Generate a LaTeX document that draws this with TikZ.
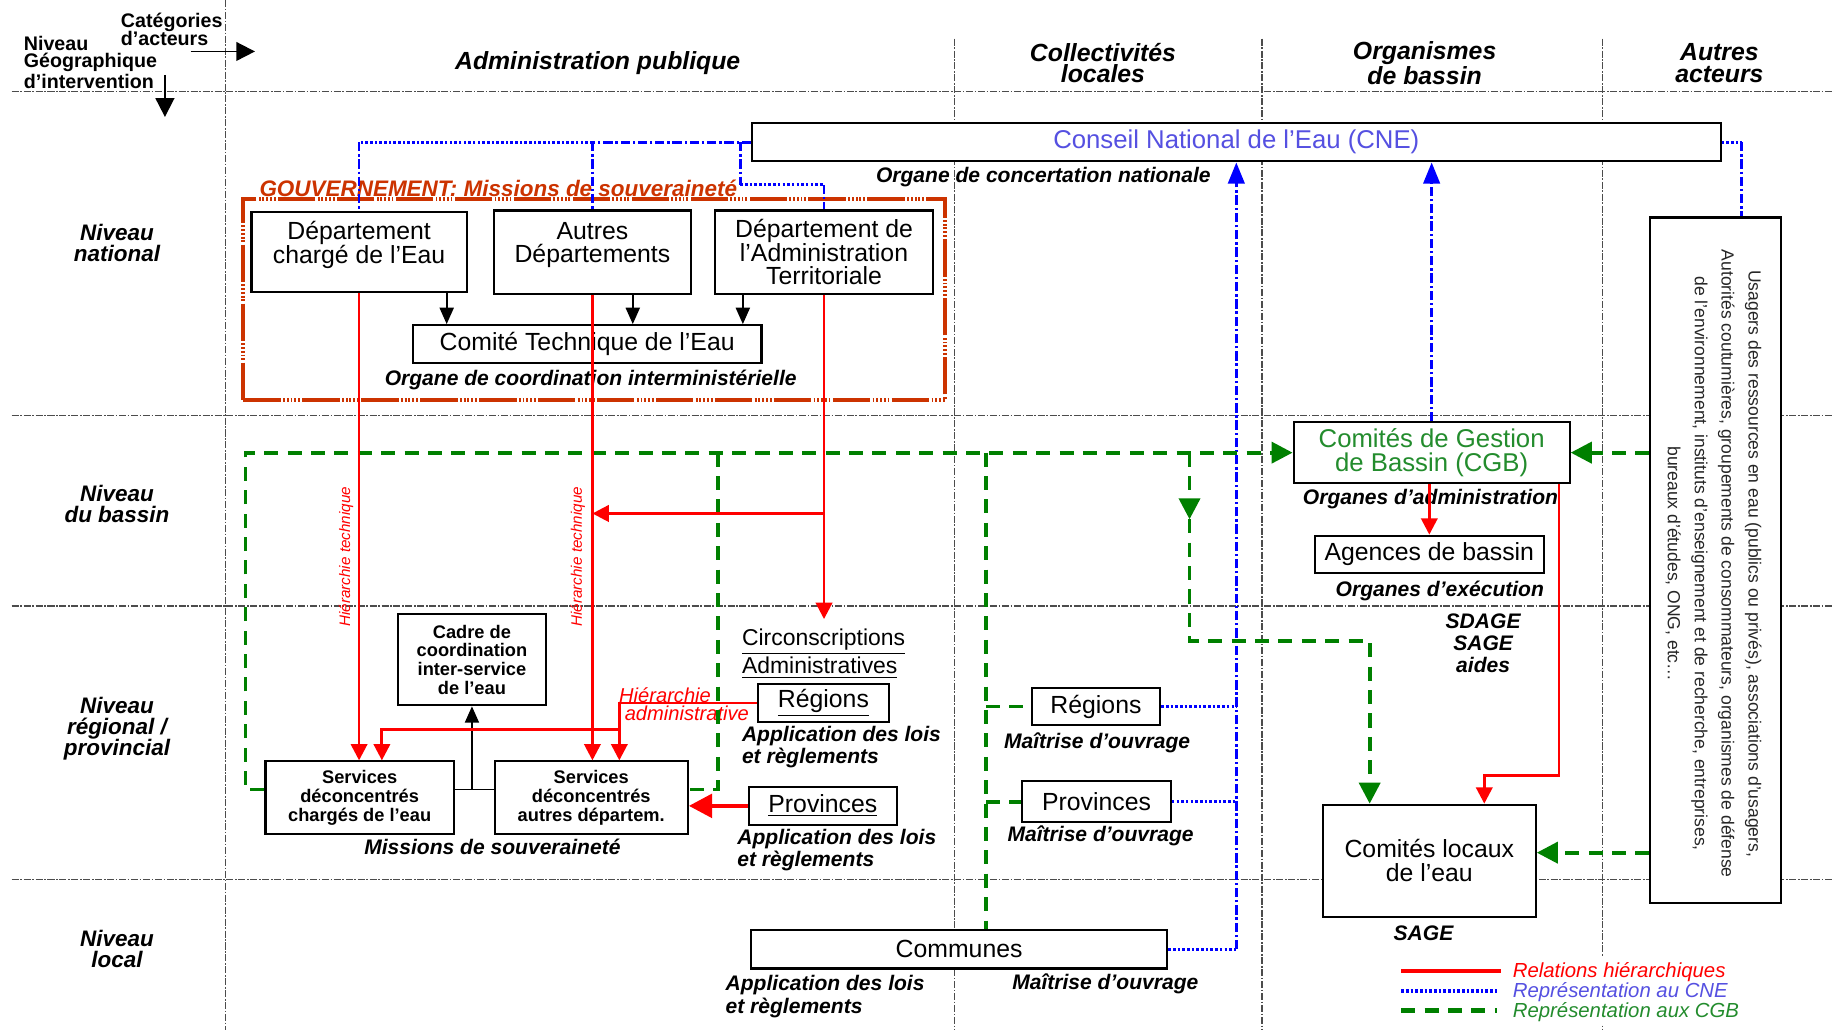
\documentclass[tikz,border=0pt]{standalone}
\usepackage{fontspec}
\setmainfont{Liberation Sans}
\usetikzlibrary{arrows.meta}
\definecolor{govred}{RGB}{204,51,0}
\definecolor{cnetxt}{RGB}{85,80,225}
\definecolor{cgbtxt}{RGB}{35,140,45}
\definecolor{gline}{RGB}{0,128,0}
\definecolor{rline}{RGB}{255,0,0}
\definecolor{bline}{RGB}{0,0,255}
\begin{document}
\begin{tikzpicture}[x=0.5pt,y=-0.5pt,
  every node/.style={inner sep=0pt},
  gridl/.style={draw=black!70, line width=0.55pt, dash pattern=on 3pt off 0.7pt on 0.7pt off 0.7pt},
  boxst/.style={draw=black, line width=0.9pt, fill=white, inner sep=0pt, align=center},
  btxt/.style={font=\fontsize{10.6}{10.2}\selectfont, align=center},
  lbl/.style={font=\fontsize{9}{9.5}\selectfont\bfseries\itshape},
  hdr/.style={font=\fontsize{10.6}{9.2}\selectfont\bfseries\itshape, align=center},
  rowl/.style={font=\fontsize{9.6}{9}\selectfont\bfseries\itshape, align=center},
  smalltxt/.style={font=\fontsize{7.8}{8}\selectfont\bfseries, align=center},
  redl/.style={draw=rline, line width=1.2pt},
  redarr/.style={redl, -{Triangle[width=7pt,length=7pt]}},
  blkl/.style={draw=black, line width=0.8pt},
  blk/.style={blkl, -{Triangle[width=6pt,length=7pt]}},
  cnedash/.style={draw=bline, line width=1.2pt, dash pattern=on 4pt off 1.2pt on 1pt off 1.2pt},
  cnedot/.style={draw=bline, line width=1.2pt, dash pattern=on 1.1pt off 0.9pt},
  cnearr/.style={cnedash, -{Triangle[width=7pt,length=9pt]}},
  gr/.style={draw=gline, line width=1.6pt, dash pattern=on 6pt off 4pt},
  grarr/.style={gr, -{Triangle[width=9pt,length=9pt]}},
  govst/.style={draw=govred, line width=1.8pt, dash pattern=on 16pt off 1pt on 0.8pt off 0.8pt on 0.8pt off 0.8pt on 0.8pt off 0.8pt on 0.8pt off 0.8pt on 0.8pt off 1pt},
  rtxt/.style={text=rline, font=\fontsize{6.5}{7}\selectfont\itshape},
  legtxt/.style={font=\fontsize{8.7}{9}\selectfont\itshape, anchor=west}
]
\useasboundingbox (0,0) rectangle (1568,881);
\fill[white] (0,0) rectangle (1568,881);

% grid
\draw[gridl] (193,0) -- (193,881);
\draw[gridl] (816,33) -- (816,881);
\draw[gridl] (1079,33) -- (1079,881);
\draw[gridl] (1370,33) -- (1370,881);
\draw[gridl] (10,78) -- (1568,78);
\draw[gridl] (10,355) -- (1568,355);
\draw[gridl] (10,518) -- (1568,518);
\draw[gridl] (10,752) -- (1568,752);
% white ground behind the legend (grid line interrupted there)
\fill[white] (1286,818) rectangle (1492,876);

% header
\node[font=\fontsize{8.4}{7.9}\selectfont\bfseries, align=left, anchor=west] (catact) at (103,25) {Catégories\\d’acteurs};
\node[font=\fontsize{8.4}{7.3}\selectfont\bfseries, align=left, anchor=west] (nivgeo) at (20,53.5) {Niveau\\Géographique\\d’intervention};
\coordinate (ha1) at (163,44);
\coordinate (ha2) at (218,44);
\draw[blkl, -{Triangle[width=8pt,length=8pt]}] (ha1) -- (ha2);
\coordinate (va1) at (141,64);
\coordinate (va2) at (141,100);
\draw[blkl, -{Triangle[width=8pt,length=8pt]}] (va1) -- (va2);

\node[hdr] (hadm) at (511,54) {Administration publique};
\node[hdr] (hcol) at (943,54) {Collectivités\\locales};
\node[hdr] (horg) at (1218,54) {Organismes\\de bassin};
\node[hdr] (haut) at (1470,54) {Autres\\acteurs};

\node[rowl] (rnat) at (100,208) {Niveau\\national};
\node[rowl] (rbas) at (100,431) {Niveau\\du bassin};
\node[rowl] (rreg) at (100,623) {Niveau\\régional /\\provincial};
\node[rowl] (rloc) at (100,811) {Niveau\\local};

% gouvernement
\node[govst, minimum width=300pt, minimum height=86pt] (gov) at (508,256) {};
\node[font=\fontsize{9.6}{10}\selectfont\bfseries\itshape, text=govred] (govt) at (426,161) {GOUVERNEMENT: Missions de souveraineté};

% boxes
\node[boxst, minimum width=414pt, minimum height=16.5pt, text=cnetxt, font=\fontsize{11}{11}\selectfont] (cne) at (1057,121.5) {Conseil National de l’Eau (CNE)};
\node[lbl] (cnel) at (892,151) {Organe de concertation nationale};

\node[boxst, minimum width=92pt, minimum height=34.5pt] (deau) at (307,215.5) {};
\node[btxt] (deaut) at (307,209.5) {Département\\chargé de l’Eau};
\node[boxst, minimum width=84.5pt, minimum height=35.5pt] (autres) at (506.5,215.5) {};
\node[btxt] (autrest) at (506.5,209.5) {Autres\\Départements};
\node[boxst, btxt, minimum width=93.5pt, minimum height=35.5pt] (dat) at (704.5,215.5) {Département de\\l’Administration\\Territoriale};
\node[boxst, btxt, minimum width=149pt, minimum height=16pt] (cte) at (502,294) {Comité Technique de l’Eau};
\node[lbl] (ctel) at (505,325) {Organe de coordination interministérielle};

\node[boxst, smalltxt, minimum width=63.5pt, minimum height=39pt] (cadre) at (403.5,564) {Cadre de\\coordination\\inter-service\\de l’eau};
\node[boxst, smalltxt, minimum width=80.5pt, minimum height=31pt] (serve) at (307.5,682) {Services\\déconcentrés\\chargés de l’eau};
\node[boxst, smalltxt, minimum width=82.5pt, minimum height=31pt] (serva) at (505.5,682) {Services\\déconcentrés\\autres départem.};
\node[lbl] (missl) at (421,724) {Missions de souveraineté};

\node[align=left, anchor=west, font=\fontsize{9.8}{9}\selectfont] (circ) at (634,559) {\underline{Circonscriptions}\\\underline{Administratives}};
\node[boxst, btxt, minimum width=56pt, minimum height=16pt] (rega) at (704,601) {\underline{Régions}};
\node[lbl, align=left, anchor=west] (regal) at (634,638.5) {Application des lois\\et règlements};
\node[boxst, btxt, minimum width=63.5pt, minimum height=16pt] (prova) at (703.5,689) {\underline{Provinces}};
\node[lbl, align=left, anchor=west] (proval) at (630,726.5) {Application des lois\\et règlements};

\node[boxst, btxt, minimum width=55pt, minimum height=16pt] (regc) at (937,604) {Régions};
\node[lbl] (regcl) at (938,635) {Maîtrise d’ouvrage};
\node[boxst, btxt, minimum width=63.5pt, minimum height=17.5pt] (provc) at (937.5,685.5) {Provinces};
\node[lbl] (provcl) at (941,715) {Maîtrise d’ouvrage};
\node[boxst, btxt, minimum width=178pt, minimum height=16.5pt] (comm) at (820,811.5) {Communes};
\node[lbl, align=left, anchor=west] (comml1) at (620,852) {Application des lois\\et règlements};
\node[lbl] (comml2) at (945,841) {Maîtrise d’ouvrage};

\node[boxst, text=cgbtxt, font=\fontsize{11}{10}\selectfont, minimum width=118pt, minimum height=26pt] (cgb) at (1224,387) {Comités de Gestion\\de Bassin (CGB)};
\node[lbl] (cgbl) at (1223,427) {Organes d’administration};
\node[boxst, btxt, minimum width=98pt, minimum height=16pt] (agb) at (1222,474) {Agences de bassin};
\node[lbl] (agbl) at (1231,505) {Organes d’exécution};
\node[lbl, align=center, font=\fontsize{9}{9.3}\selectfont\bfseries\itshape] (sdage) at (1268,550) {SDAGE\\SAGE\\aides};
\node[boxst, btxt, minimum width=91pt, minimum height=48pt] (cl) at (1222,736) {Comités locaux\\de l’eau};
\node[lbl] (cll) at (1217,798) {SAGE};

\node[boxst, minimum width=56pt, minimum height=293pt] (aa) at (1467,479) {};
\node[rotate=-90, align=center, font=\fontsize{7.5}{11.5}\selectfont, text=black!85] (aat) at (1465,482) {Usagers des ressources en eau (publics ou privés), associations d’usagers,\\Autorités coutumières, groupements de consommateurs, organismes de défense\\de l’environnement, instituts d’enseignement et de recherche, entreprises,\\bureaux d’études, ONG, etc…};

\node[rotate=90, rtxt] (ht1) at (296,476) {Hiérarchie technique};
\node[rotate=90, rtxt] (ht2) at (494,476) {Hiérarchie technique};
\node[text=rline, font=\fontsize{8.6}{7.6}\selectfont\itshape, align=left, anchor=west] (hadmin) at (529,602) {Hiérarchie\\\ administrative};

% blue connectors (CNE)
\coordinate (bA) at (autres.north |- cne.west);
\coordinate (bE) at (deau.north |- cne.west);
\draw[cnedash] (cne.west) -- (bA);
\draw[cnedot] (bA) -- (bE);
\draw[cnedash] (bE) -- (deau.north);
\draw[cnedash] (bA) -- (autres.north);
\coordinate (bT1) at (633,121.5);
\coordinate (bT2) at (633,158);
\coordinate (bT3) at (bT2 -| dat.north);
\draw[cnedash] (bT1) -- (bT2);
\draw[cnedot] (bT2) -- (bT3);
\draw[cnedash] (bT3) -- (dat.north);
\coordinate (aatop) at ([xshift=11pt]aa.north);
\coordinate (bR) at (aatop |- cne.east);
\draw[cnedot] (cne.east) -- (bR);
\draw[cnedash] (bR) -- (aatop);
\coordinate (bV) at (comm.east -| cne.south);
\draw[cnedot] (comm.east) -- (bV);
\draw[cnearr] (bV) -- (cne.south);
\draw[cnedot] (regc.east) -- (regc.east -| cne.south);
\draw[cnedot] (provc.east) -- (provc.east -| cne.south);
\draw[cnearr] (cgb.north) -- (cgb.north |- cne.south);

% black connectors
\coordinate (k1) at ([xshift=-9pt]deau.south east);
\coordinate (k2) at ([xshift=17.25pt]autres.south);
\coordinate (k3) at ([xshift=12.5pt]dat.south west);
\draw[blk] (k1) -- (k1 |- cte.north);
\draw[blk] (k2) -- (k2 |- cte.north);
\draw[blk] (k3) -- (k3 |- cte.north);
\coordinate (kE) at ([yshift=3.5pt]serve.east);
\coordinate (kA) at ([yshift=3.5pt]serva.west);
\draw[blkl] (kE) -- (kA);
\draw[blk] (cadre.south |- kE) -- (cadre.south);

% green connectors (CGB)
\coordinate (gx) at (210,0);
\coordinate (gC) at (gx |- cgb.west);
\coordinate (gE) at ([yshift=3.5pt]serve.west);
\draw[grarr] (gE) -| (gC) -- (cgb.west);
\coordinate (g614) at (614,387);
\coordinate (gA) at ([yshift=3.5pt]serva.east);
\draw[gr] (g614) |- (gA);
\coordinate (g843) at (843,387);
\draw[gr] (g843) -- (g843 |- comm.north);
\draw[gr] (g843 |- regc.west) -- (regc.west);
\draw[gr] (g843 |- provc.west) -- (provc.west);
\coordinate (g1017) at (1017,387);
\coordinate (g1017b) at (1017,444);
\draw[grarr] (g1017) -- (g1017b);
\coordinate (gCL) at ([xshift=-25.5pt]cl.north);
\coordinate (y548) at (0,548);
\draw[grarr] (g1017b) |- (gCL |- y548) -- (gCL);
\draw[grarr] (aa.west |- cgb.east) -- (cgb.east);
\coordinate (gCLe) at ([yshift=3.5pt]cl.east);
\draw[grarr] (aa.west |- gCLe) -- (gCLe);

% red connectors (hierarchy)
\draw[redarr] (deau.south) -- (deau.south |- serve.north);
\draw[redarr] (autres.south) -- (autres.south |- serva.north);
\draw[redarr, shorten >=4pt] (dat.south) -- (dat.south |- circ.north);
\coordinate (y439) at (0,439);
\coordinate (rB) at (dat.south |- y439);
\draw[redarr] (rB) -- (rB -| autres.south);
\coordinate (rR) at ([xshift=12pt]serva.north);
\coordinate (rR2) at ([xshift=9.5pt]serve.north);
\coordinate (y624) at (0,624);
\draw[redarr] (rega.west) -| (rR);
\draw[redarr] (rR |- y624) -| (rR2);
\draw[redl, line width=2pt, -{Triangle[width=10pt,length=10pt]}] (prova.west) -- (prova.west -| serva.east);
\draw[redarr] (agb.north |- cgb.south) -- (agb.north);
\coordinate (rC1) at ([xshift=-5pt]cgb.south east);
\coordinate (rC2) at ([xshift=23.5pt]cl.north);
\coordinate (y663) at (0,663);
\draw[redarr] (rC1) |- (rC2 |- y663) -- (rC2);

% legend
\node[legtxt, text=rline] (leg1) at (1293,831) {Relations hiérarchiques};
\node[legtxt, text=cnetxt] (leg2) at (1293,848) {Représentation au CNE};
\node[legtxt, text=cgbtxt] (leg3) at (1293,865) {Représentation aux CGB};
\coordinate (l1s) at (1198,830);
\coordinate (l2s) at (1198,847);
\coordinate (l3s) at (1198,864);
\draw[redl, line width=1.5pt] (l1s) -- ([xshift=-5pt]l1s -| leg1.west);
\draw[cnedot, line width=1.8pt] (l2s) -- ([xshift=-6.5pt]l2s -| leg2.west);
\draw[gr, line width=2pt] (l3s) -- ([xshift=-6.5pt]l3s -| leg3.west);
\end{tikzpicture}
\end{document}
